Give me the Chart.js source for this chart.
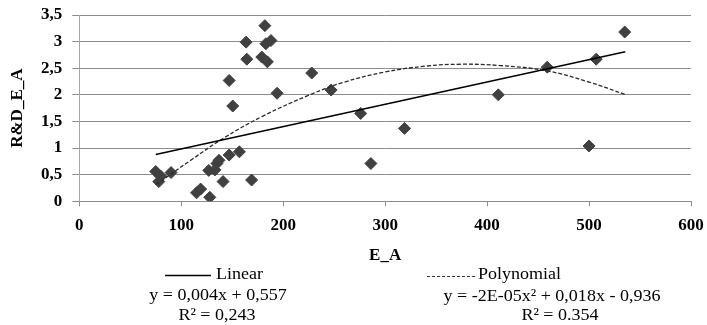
<!DOCTYPE html>
<html>
<head>
<meta charset="utf-8">
<script src="https://cdn.jsdelivr.net/npm/chart.js@4"></script>
<style>
  html, body { margin: 0; padding: 0; background: #ffffff; }
  #wrap { width: 707px; height: 325px; }
</style>
</head>
<body>
<div id="wrap"><canvas id="c" width="707" height="325"></canvas></div>
<script>
// ---- data ----
const pointX = [75, 80, 78, 90, 115, 119, 128, 127, 133, 135, 137, 141, 147, 157, 169,
                147, 150.5, 163.6, 164.3, 182, 183, 188, 179, 184.5, 194,
                228, 247, 276, 286, 319, 411, 459, 500, 507, 535];
const pointY = [0.56, 0.47, 0.37, 0.54, 0.16, 0.23, 0.075, 0.58, 0.59, 0.71, 0.77, 0.37, 0.87, 0.93, 0.40,
                2.27, 1.79, 2.99, 2.67, 3.30, 2.96, 3.02, 2.71, 2.62, 2.03,
                2.41, 2.09, 1.65, 0.71, 1.37, 2.00, 2.52, 1.04, 2.67, 3.18];

const linearX = [75, 535.5];
const linearY = [0.88, 2.81];

const polyX = [75, 110, 141, 180, 226, 260, 300, 340, 374, 413, 459, 500, 535];
const polyY = [0.31, 0.78, 1.18, 1.60, 2.00, 2.24, 2.43, 2.54, 2.575, 2.55, 2.45, 2.24, 2.01];

const xTicks = [0, 100, 200, 300, 400, 500, 600];
const yTicks = [0, 0.5, 1, 1.5, 2, 2.5, 3, 3.5];

const xTitle = 'E_A';
const yTitle = 'R&D_E_A';
const linearLabel = 'Linear';
const linearEq = 'y = 0,004x + 0,557';
const linearR2 = 'R² = 0,243';
const polyLabel = 'Polynomial';
const polyEq = 'y = -2E-05x² + 0,018x - 0,936';
const polyR2 = 'R² = 0.354';

// ---- build chart ----
const zip = (xs, ys) => xs.map((x, i) => ({ x: x, y: ys[i] }));
const SERIF = '"Liberation Serif", "Times New Roman", serif';

function stretchedText(ctx, text, x, y, align, sx) {
  ctx.save();
  ctx.translate(x, y);
  ctx.scale(sx, 1);
  ctx.textAlign = align;
  ctx.fillText(text, 0, 0);
  ctx.restore();
}

const legendPlugin = {
  id: 'trendLegend',
  afterDraw(chart) {
    const ctx = chart.ctx;
    const sx = 1.06;
    ctx.save();
    ctx.fillStyle = '#000';
    ctx.font = '17px ' + SERIF;
    ctx.textBaseline = 'middle';
    // linear sample
    ctx.strokeStyle = '#000';
    ctx.lineWidth = 1.3;
    ctx.setLineDash([]);
    ctx.beginPath(); ctx.moveTo(165, 275.5); ctx.lineTo(211, 275.5); ctx.stroke();
    stretchedText(ctx, linearLabel, 216, 275, 'left', sx);
    stretchedText(ctx, linearEq, 218, 296, 'center', sx);
    stretchedText(ctx, linearR2, 217, 316, 'center', sx);
    // polynomial sample
    ctx.strokeStyle = '#333';
    ctx.lineWidth = 1.2;
    ctx.setLineDash([3, 2]);
    ctx.beginPath(); ctx.moveTo(427, 276.5); ctx.lineTo(475, 276.5); ctx.stroke();
    ctx.setLineDash([]);
    stretchedText(ctx, polyLabel, 478, 275, 'left', sx);
    stretchedText(ctx, polyEq, 552, 297, 'center', sx);
    stretchedText(ctx, polyR2, 560, 316, 'center', sx);
    ctx.restore();
  }
};

new Chart(document.getElementById('c'), {
  type: 'scatter',
  data: {
    datasets: [
      {
        label: 'data',
        data: zip(pointX, pointY),
        pointStyle: 'rectRot',
        pointRadius: 6,
        backgroundColor: '#404040',
        borderColor: '#404040',
        borderWidth: 1,
        showLine: false,
        order: 3
      },
      {
        label: linearLabel,
        data: zip(linearX, linearY),
        showLine: true,
        pointRadius: 0,
        borderColor: '#000000',
        borderWidth: 1.5,
        order: 1
      },
      {
        label: polyLabel,
        data: zip(polyX, polyY),
        showLine: true,
        pointRadius: 0,
        borderColor: '#2a2a2a',
        borderWidth: 1.3,
        borderDash: [4, 2],
        tension: 0.4,
        order: 2
      }
    ]
  },
  options: {
    responsive: false,
    animation: false,
    layout: { padding: { left: 0, right: 16, top: 15, bottom: 0 } },
    plugins: {
      legend: { display: false },
      tooltip: { enabled: false },
      title: { display: false }
    },
    scales: {
      x: {
        type: 'linear',
        min: 0, max: 600,
        afterBuildTicks: (s) => { s.ticks = xTicks.map(v => ({ value: v })); },
        afterFit: (s) => { s.height = 123.7; s.paddingRight = 0; s.paddingLeft = 0; },
        grid: { drawOnChartArea: false, drawTicks: true, tickLength: 5, color: '#8c8c8c' },
        border: { color: '#8c8c8c', width: 1 },
        ticks: { font: { family: SERIF, size: 17, weight: 'bold' }, color: '#000', padding: 9, maxRotation: 0 },
        title: { display: true, text: xTitle, font: { family: SERIF, size: 17, weight: 'bold' }, color: '#000', padding: { top: 0, bottom: 59 } }
      },
      y: {
        type: 'linear',
        min: 0, max: 3.5,
        afterBuildTicks: (s) => { s.ticks = yTicks.map(v => ({ value: v })); },
        afterFit: (s) => { s.width = 79.3; s.paddingTop = 0; s.paddingBottom = 0; },
        grid: { drawOnChartArea: true, drawTicks: true, tickLength: 7, color: '#8c8c8c' },
        border: { color: '#a6a6a6', width: 1 },
        ticks: {
          font: { family: SERIF, size: 17, weight: 'bold' }, color: '#000', padding: 10,
          callback: (v) => String(v).replace('.', ',')
        },
        title: { display: true, text: yTitle, font: { family: SERIF, size: 17, weight: 'bold' }, color: '#000', padding: { top: 7, bottom: 0 } }
      }
    }
  },
  plugins: [legendPlugin]
});
</script>
</body>
</html>
